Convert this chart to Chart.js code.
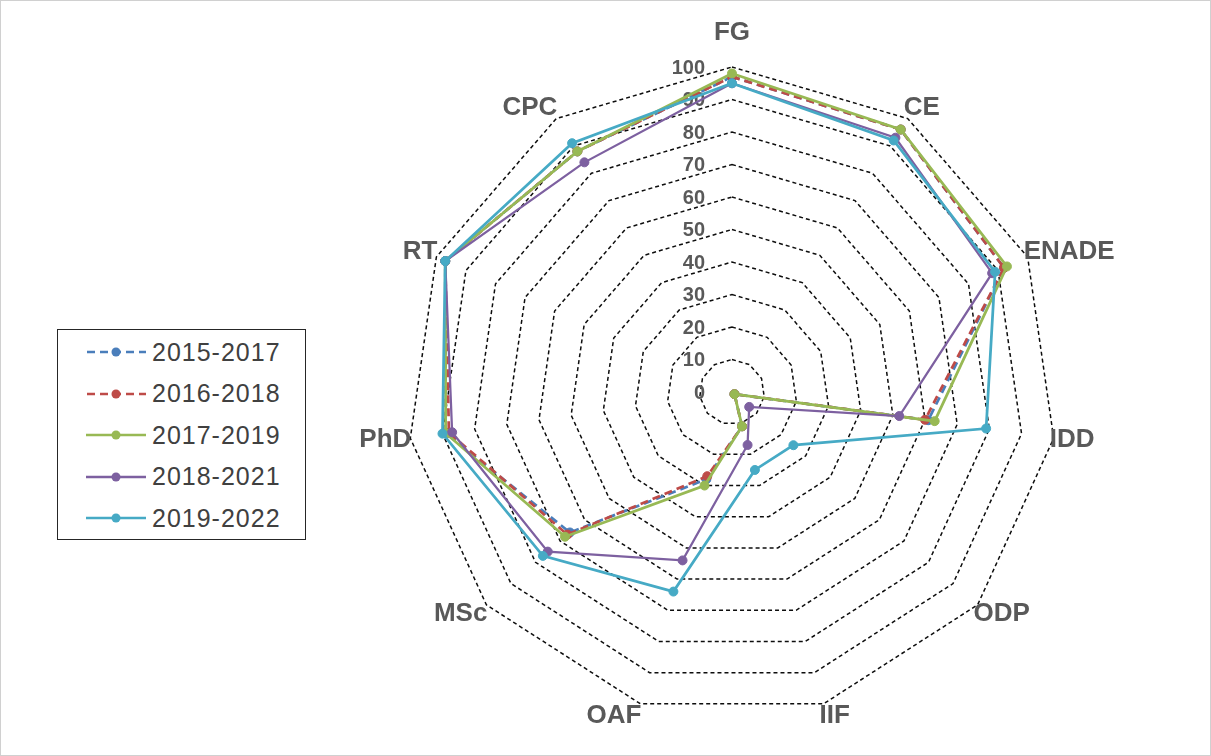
<!DOCTYPE html>
<html>
<head>
<meta charset="utf-8">
<script src="https://cdn.jsdelivr.net/npm/chart.js@4.4.1/dist/chart.umd.min.js"></script>
<style>
    html, body { margin: 0; padding: 0; background: #fff; }
    body { position: relative; width: 1211px; height: 756px; overflow: hidden; }
    #chart { position: absolute; left: 0; top: 0; }
    #frame { position: absolute; left: 0; top: 0; width: 1209px; height: 754px; border: 1px solid #d0d0d0; pointer-events: none; }
    #legend {
        position: absolute; left: 57px; top: 329px; width: 249px; height: 211px;
        box-sizing: border-box; border: 1.5px solid #262626; background: #fff;
        font-family: 'Liberation Sans', Arial, sans-serif; font-size: 25px; letter-spacing: 1px; color: #404040;
    }
    .legend-item { position: absolute; left: 0; height: 40px; display: flex; align-items: center; }
    .legend-item svg { margin-left: 28px; margin-right: 6px; }
</style>
</head>
<body>
<canvas id="chart" width="1211" height="756"></canvas>
<div id="legend"></div>
<div id="frame"></div>
<script>
const categories = ['FG', 'CE', 'ENADE', 'IDD', 'ODP', 'IIF', 'OAF', 'MSc', 'PhD', 'RT', 'CPC'];
const seriesNames = ['2015-2017', '2016-2018', '2017-2019', '2018-2021', '2019-2022'];

const values2015 = [97, 96, 92, 61, 1, 11, 28, 66, 89, 97, 88];
const values2016 = [97, 96, 92, 60, 1, 11, 27, 67, 88, 97, 88];
const values2017 = [98, 96, 93, 63, 1, 11, 30, 68, 89, 97, 88];
const values2018 = [95, 93, 88, 52, 7, 17, 54, 75, 87, 97, 84];
const values2019 = [95, 92, 89, 79, 25, 25, 64, 77, 90, 97, 91];

const tickMin = 0;
const tickMax = 100;
const tickStep = 10;

const seriesColors = ['#4a7ebb', '#be4b48', '#98b954', '#7d60a0', '#46aac5'];
const seriesDashes = [[8, 5], [8, 5], [], [], []];

const allValues = [values2015, values2016, values2017, values2018, values2019];

const textGray = '#595959';
const labelFont = '"Liberation Sans", Arial, sans-serif';

const radarText = {
    id: 'radarText',
    beforeDatasetsDraw(chart) {
        const scale = chart.scales.r;
        const ctx = chart.ctx;
        ctx.save();
        ctx.font = 'bold 20px ' + labelFont;
        ctx.fillStyle = textGray;
        ctx.textAlign = 'right';
        ctx.textBaseline = 'middle';
        scale.ticks.forEach((tick) => {
            const d = scale.getDistanceFromCenterForValue(tick.value);
            ctx.fillText(String(tick.value), scale.xCenter - 27, scale.yCenter - d + 1);
        });
        ctx.restore();
    },
    afterDraw(chart) {
        const scale = chart.scales.r;
        const ctx = chart.ctx;
        ctx.save();
        ctx.font = 'bold 26px ' + labelFont;
        ctx.fillStyle = textGray;
        ctx.textBaseline = 'middle';
        chart.data.labels.forEach((label, i) => {
            const p = scale.getPointPosition(i, scale.drawingArea);
            const angle = scale.getIndexAngle(i);
            const s = Math.sin(angle);
            const c = Math.cos(angle);
            let align = 'center';
            let x = p.x;
            if (s > 0.05) { align = 'left'; x -= 4; }
            else if (s < -0.05) { align = 'right'; x += 1; }
            let y = p.y - c * 13;
            if (align === 'center' && c > 0) y -= 21;
            ctx.textAlign = align;
            ctx.fillText(label, x, y);
        });
        ctx.restore();
    }
};

const datasets = seriesNames.map((name, i) => ({
    label: name,
    data: allValues[i],
    borderColor: seriesColors[i],
    backgroundColor: seriesColors[i],
    pointBackgroundColor: seriesColors[i],
    pointBorderColor: seriesColors[i],
    borderDash: seriesDashes[i],
    borderWidth: i === 3 ? 2.25 : 2.75,
    pointRadius: 4.5,
    pointBorderWidth: 1,
    fill: false,
    tension: 0,
    order: seriesNames.length - 1 - i
}));

new Chart(document.getElementById('chart').getContext('2d'), {
    type: 'radar',
    data: { labels: categories, datasets: datasets },
    options: {
        responsive: false,
        animation: false,
        layout: { padding: { left: 407, top: 67, right: 154, bottom: 39 } },
        plugins: { legend: { display: false }, tooltip: { enabled: false } },
        scales: {
            r: {
                min: tickMin,
                max: tickMax,
                ticks: { stepSize: tickStep, display: false },
                pointLabels: { display: false },
                angleLines: { display: false },
                grid: { color: '#0d0d0d', lineWidth: 1.5 },
                border: { dash: [4, 3] }
            }
        }
    },
    plugins: [radarText]
});

const legendBox = document.getElementById('legend');
seriesNames.forEach((name, i) => {
    const item = document.createElement('div');
    item.className = 'legend-item';
    item.style.top = (2 + i * 41.6) + 'px';
    const dash = seriesDashes[i].length ? `stroke-dasharray="${seriesDashes[i].join(' ')}"` : '';
    item.innerHTML = `
        <svg width="60" height="14" viewBox="0 0 60 14">
            <line x1="0" y1="7" x2="60" y2="7" stroke="${seriesColors[i]}" stroke-width="2.5" ${dash} stroke-dashoffset="-1"/>
            <circle cx="30" cy="7" r="4.5" fill="${seriesColors[i]}"/>
        </svg>
        <span>${name}</span>
    `;
    legendBox.appendChild(item);
});
</script>
</body>
</html>
